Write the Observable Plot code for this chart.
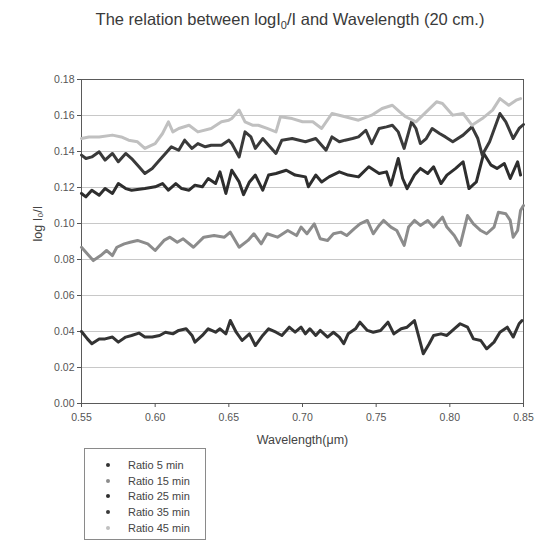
<!DOCTYPE html>
<html><head><meta charset="utf-8">
<script src="https://cdn.jsdelivr.net/npm/d3@7"></script>
<script src="https://cdn.jsdelivr.net/npm/@observablehq/plot@0.6"></script>
<style>
body{margin:0;background:#fff;font-family:"Liberation Sans",Arial,sans-serif;}
#wrap{position:relative;width:537px;height:542px;overflow:hidden;background:#fff;}
#title{position:absolute;top:10px;left:0;width:580px;text-align:center;font-size:16.5px;color:#3a3a3a;}
#title sub{font-size:11px;}
#chart{position:absolute;top:50px;left:0;}
#legend{position:absolute;left:84px;top:448px;width:122px;height:92px;border:1px solid #8a8a8a;box-sizing:border-box;}
.row{position:absolute;left:0;height:14px;font-size:11px;color:#444;line-height:14px;}
.dot{position:absolute;left:21px;top:5px;width:4px;height:4px;border-radius:2px;}
.lab{position:absolute;left:43px;top:0;white-space:nowrap;}
</style></head>
<body>
<div id="wrap">
  <div id="title">The relation between logI<sub>0</sub>/I and Wavelength (20 cm.)</div>
  <div id="chart"></div>
  <div id="legend"></div>
</div>
<script>
// Data: [wavelength (µm), log I0/I]
const ratio5 = [[0.550,0.0400],[0.554,0.0359],[0.557,0.0332],[0.562,0.0359],[0.566,0.0359],[0.571,0.0369],[0.575,0.0341],[0.580,0.0369],[0.584,0.0378],[0.589,0.0391],[0.593,0.0369],[0.598,0.0369],[0.603,0.0378],[0.607,0.0396],[0.612,0.0387],[0.616,0.0406],[0.621,0.0415],[0.625,0.0378],[0.627,0.0341],[0.632,0.0378],[0.636,0.0415],[0.641,0.0396],[0.644,0.0415],[0.648,0.0387],[0.651,0.0461],[0.655,0.0396],[0.659,0.0350],[0.664,0.0387],[0.668,0.0322],[0.673,0.0378],[0.677,0.0415],[0.682,0.0396],[0.686,0.0378],[0.691,0.0424],[0.695,0.0396],[0.699,0.0424],[0.702,0.0387],[0.705,0.0415],[0.709,0.0378],[0.712,0.0406],[0.717,0.0369],[0.721,0.0396],[0.725,0.0369],[0.728,0.0332],[0.731,0.0387],[0.736,0.0415],[0.739,0.0452],[0.744,0.0406],[0.748,0.0396],[0.753,0.0406],[0.758,0.0452],[0.762,0.0387],[0.767,0.0415],[0.771,0.0424],[0.776,0.0461],[0.779,0.0369],[0.782,0.0276],[0.786,0.0332],[0.789,0.0378],[0.794,0.0387],[0.798,0.0378],[0.803,0.0415],[0.807,0.0443],[0.812,0.0424],[0.816,0.0359],[0.821,0.0350],[0.825,0.0304],[0.830,0.0341],[0.834,0.0396],[0.839,0.0424],[0.843,0.0369],[0.847,0.0443],[0.849,0.0461]];
const ratio15 = [[0.550,0.0868],[0.558,0.0794],[0.563,0.0822],[0.567,0.0850],[0.571,0.0822],[0.574,0.0868],[0.579,0.0887],[0.583,0.0896],[0.588,0.0906],[0.595,0.0887],[0.600,0.0850],[0.606,0.0906],[0.610,0.0924],[0.615,0.0896],[0.619,0.0915],[0.626,0.0868],[0.633,0.0924],[0.640,0.0933],[0.647,0.0924],[0.651,0.0952],[0.657,0.0868],[0.663,0.0906],[0.667,0.0943],[0.672,0.0887],[0.676,0.0943],[0.683,0.0924],[0.690,0.0961],[0.696,0.0933],[0.699,0.0980],[0.703,0.0943],[0.708,0.0998],[0.712,0.0915],[0.717,0.0906],[0.721,0.0943],[0.726,0.0952],[0.730,0.0933],[0.735,0.0970],[0.739,0.0998],[0.744,0.1017],[0.748,0.0943],[0.752,0.0989],[0.755,0.1017],[0.760,0.0980],[0.764,0.0961],[0.769,0.0878],[0.772,0.0980],[0.776,0.1017],[0.780,0.0989],[0.785,0.1017],[0.789,0.0980],[0.795,0.1035],[0.798,0.0980],[0.803,0.0933],[0.807,0.0878],[0.812,0.1044],[0.816,0.0998],[0.821,0.0961],[0.825,0.0943],[0.830,0.0980],[0.833,0.1063],[0.838,0.1054],[0.841,0.1017],[0.843,0.0924],[0.846,0.0961],[0.848,0.1072],[0.850,0.1100]];
const ratio25 = [[0.550,0.1167],[0.553,0.1148],[0.557,0.1185],[0.562,0.1157],[0.566,0.1194],[0.571,0.1167],[0.575,0.1222],[0.580,0.1194],[0.584,0.1185],[0.593,0.1194],[0.600,0.1204],[0.605,0.1222],[0.609,0.1185],[0.614,0.1222],[0.618,0.1194],[0.623,0.1185],[0.627,0.1213],[0.632,0.1204],[0.636,0.1250],[0.641,0.1222],[0.644,0.1287],[0.648,0.1167],[0.652,0.1296],[0.657,0.1231],[0.660,0.1160],[0.664,0.1231],[0.668,0.1269],[0.673,0.1185],[0.677,0.1269],[0.682,0.1278],[0.689,0.1296],[0.695,0.1269],[0.702,0.1259],[0.704,0.1204],[0.709,0.1269],[0.713,0.1231],[0.718,0.1259],[0.725,0.1287],[0.731,0.1269],[0.738,0.1259],[0.745,0.1315],[0.752,0.1278],[0.757,0.1287],[0.760,0.1213],[0.765,0.1361],[0.768,0.1250],[0.771,0.1194],[0.776,0.1269],[0.780,0.1306],[0.785,0.1278],[0.789,0.1315],[0.794,0.1222],[0.798,0.1269],[0.804,0.1306],[0.809,0.1343],[0.813,0.1194],[0.818,0.1231],[0.823,0.1389],[0.828,0.1324],[0.832,0.1306],[0.837,0.1333],[0.841,0.1250],[0.846,0.1343],[0.848,0.1269]];
const ratio35 = [[0.550,0.1380],[0.553,0.1361],[0.557,0.1370],[0.562,0.1398],[0.566,0.1352],[0.571,0.1389],[0.575,0.1343],[0.580,0.1389],[0.584,0.1361],[0.589,0.1315],[0.593,0.1278],[0.598,0.1306],[0.602,0.1343],[0.607,0.1389],[0.611,0.1426],[0.616,0.1407],[0.620,0.1463],[0.625,0.1417],[0.629,0.1444],[0.634,0.1426],[0.638,0.1435],[0.645,0.1435],[0.650,0.1463],[0.652,0.1444],[0.657,0.1370],[0.661,0.1509],[0.665,0.1481],[0.668,0.1417],[0.673,0.1472],[0.677,0.1435],[0.682,0.1389],[0.686,0.1463],[0.693,0.1472],[0.702,0.1454],[0.709,0.1472],[0.713,0.1435],[0.716,0.1407],[0.720,0.1481],[0.725,0.1454],[0.729,0.1463],[0.734,0.1472],[0.738,0.1481],[0.743,0.1518],[0.747,0.1444],[0.752,0.1528],[0.757,0.1537],[0.761,0.1546],[0.765,0.1509],[0.769,0.1417],[0.774,0.1565],[0.777,0.1528],[0.780,0.1444],[0.784,0.1472],[0.788,0.1528],[0.793,0.1500],[0.797,0.1481],[0.802,0.1454],[0.809,0.1491],[0.815,0.1537],[0.819,0.1472],[0.822,0.1380],[0.827,0.1454],[0.834,0.1611],[0.838,0.1565],[0.843,0.1472],[0.847,0.1528],[0.850,0.1550]];
const ratio45 = [[0.550,0.1472],[0.555,0.1481],[0.562,0.1481],[0.571,0.1491],[0.577,0.1481],[0.582,0.1463],[0.588,0.1454],[0.593,0.1417],[0.597,0.1433],[0.600,0.1444],[0.605,0.1500],[0.609,0.1565],[0.612,0.1509],[0.616,0.1528],[0.623,0.1546],[0.629,0.1509],[0.638,0.1528],[0.645,0.1565],[0.650,0.1574],[0.652,0.1583],[0.657,0.1630],[0.661,0.1565],[0.666,0.1546],[0.670,0.1546],[0.676,0.1528],[0.682,0.1509],[0.685,0.1593],[0.693,0.1583],[0.700,0.1565],[0.707,0.1565],[0.713,0.1528],[0.720,0.1611],[0.729,0.1593],[0.738,0.1574],[0.747,0.1602],[0.754,0.1639],[0.761,0.1657],[0.766,0.1620],[0.770,0.1593],[0.777,0.1565],[0.784,0.1620],[0.791,0.1676],[0.795,0.1667],[0.802,0.1602],[0.809,0.1611],[0.815,0.1546],[0.822,0.1583],[0.829,0.1630],[0.834,0.1694],[0.840,0.1657],[0.845,0.1685],[0.848,0.1694]];

const seriesNames = ["Ratio 5 min","Ratio 15 min","Ratio 25 min","Ratio 35 min","Ratio 45 min"];
const seriesColors = ["#333333","#8c8c8c","#2e2e2e","#3a3a3a","#c0c0c0"];
const seriesData = [ratio5, ratio15, ratio25, ratio35, ratio45];
const xTicks = [0.55,0.60,0.65,0.70,0.75,0.80,0.85];
const yTicks = [0,0.02,0.04,0.06,0.08,0.10,0.12,0.14,0.16,0.18];

const rows = seriesData.flatMap((d, i) => d.map(([w, v]) => ({series: seriesNames[i], w, v})));

const chart = Plot.plot({
  width: 537, height: 400,
  marginLeft: 81, marginRight: 14, marginTop: 29, marginBottom: 47,
  style: {fontFamily: "'Liberation Sans', Arial, sans-serif", fontSize: "10.5px", color: "#555", background: "transparent"},
  x: {domain: [0.55, 0.85]},
  y: {domain: [0, 0.18]},
  color: {domain: seriesNames, range: seriesColors},
  marks: [
    Plot.ruleY(yTicks.filter(t => t > 0 && t < 0.18), {stroke: "#c8c8c8", strokeWidth: 1}),
    Plot.frame({stroke: "#5a5a5a"}),
    Plot.axisY(yTicks, {tickFormat: d => d.toFixed(2), tickSize: 4, tickPadding: 3, label: null, stroke: "#555", fontSize: 10.5}),
    Plot.axisX(xTicks, {tickFormat: d => d.toFixed(2), tickSize: 4, tickPadding: 6, label: null, stroke: "#555", fontSize: 10.5}),
    Plot.text(["log I₀/I"], {frameAnchor: "left", dx: -44, rotate: -90, fontSize: 12.5, fill: "#444"}),
    Plot.text(["Wavelength(μm)"], {frameAnchor: "bottom", dy: 40, fontSize: 12.5, fill: "#444"}),
    Plot.line(rows, {x: "w", y: "v", z: "series", stroke: "series", strokeWidth: 3, strokeLinejoin: "round"})
  ]
});
document.getElementById("chart").appendChild(chart);

const legend = document.getElementById("legend");
const rowTops = [9, 25, 40, 56, 72];
seriesNames.forEach((name, i) => {
  const r = document.createElement("div");
  r.className = "row";
  r.style.top = rowTops[i] + "px";
  r.innerHTML = `<span class="dot" style="background:${seriesColors[i]}"></span><span class="lab">${name}</span>`;
  legend.appendChild(r);
});
</script>
</body></html>
